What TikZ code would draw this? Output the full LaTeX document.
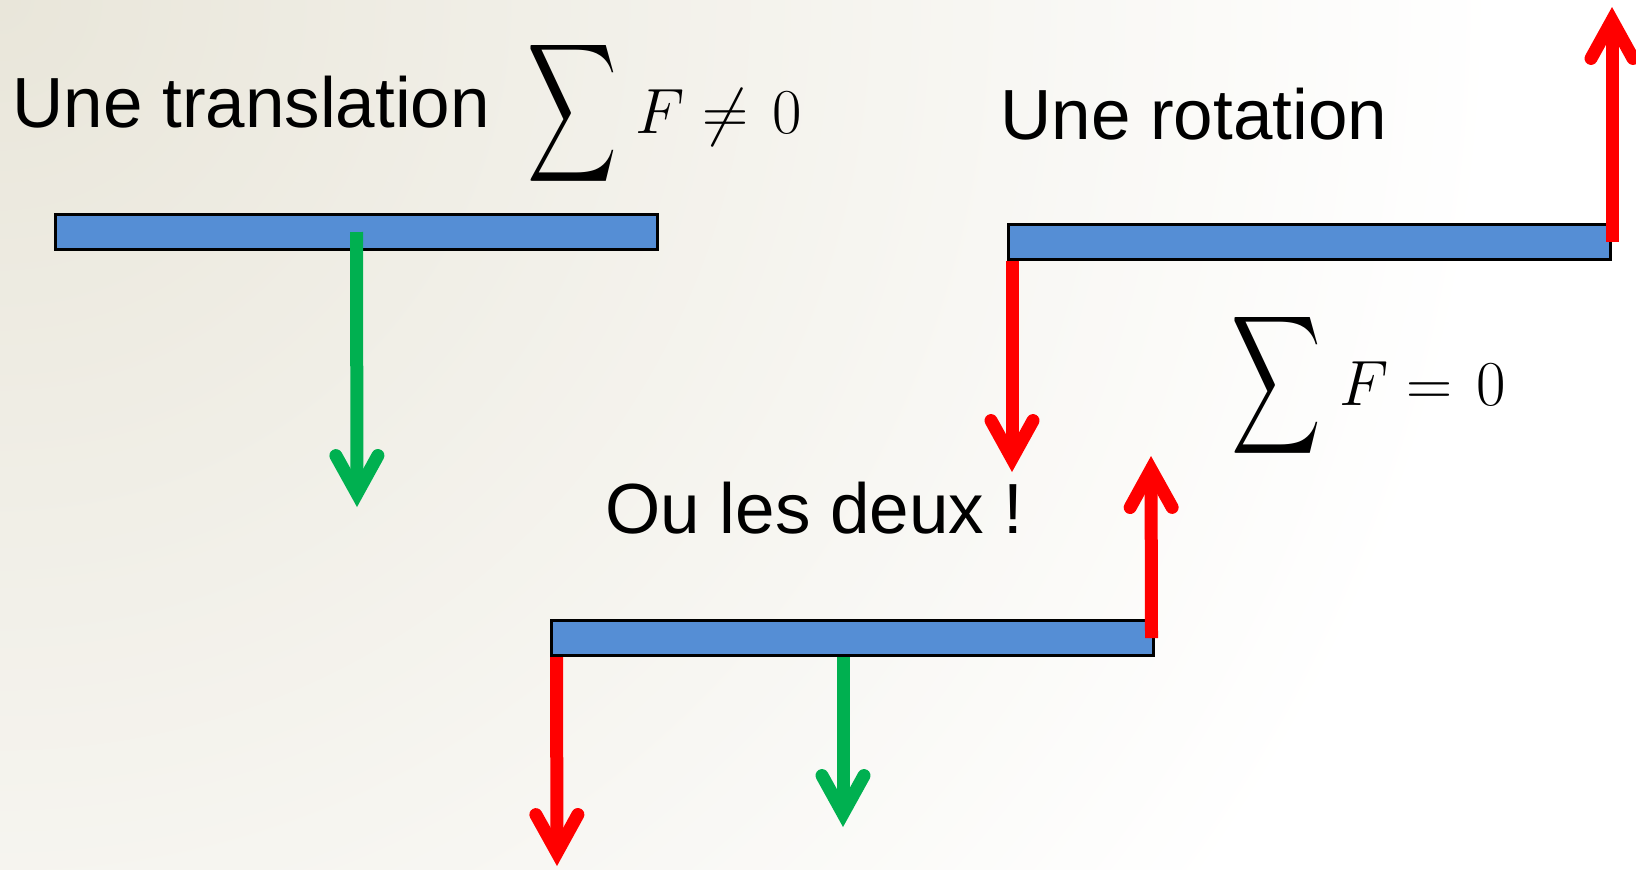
\RequirePackage{fix-cm}
\documentclass[tikz,border=0pt]{standalone}
\usepackage{amsmath}
\usepackage[no-math]{fontspec}
\setmainfont{Liberation Sans}
\usetikzlibrary{arrows.meta}

\definecolor{barblue}{RGB}{85,142,213}
\definecolor{fgreen}{RGB}{0,176,80}
\definecolor{fred}{RGB}{255,0,0}
\definecolor{bgtan}{RGB}{233,230,218}

\newcommand{\Fsum}{\smash{\raisebox{-6pt}{\scalebox{1.25}[1.95]{$\displaystyle\sum$}}}\mkern5mu}

\tikzset{
  bar/.style={draw=black, line width=1.5pt, fill=barblue, minimum width=301pt, minimum height=17.5pt, inner sep=0pt},
  force/.style={line width=6.5pt, -{Straight Barb[length=19pt, width=21pt, line cap=round, line join=miter]}},
  txt/.style={inner sep=0pt, anchor=base west, font=\fontsize{35.5}{42}\selectfont},
  sumtxt/.style={inner sep=0pt, anchor=base west, font=\fontsize{32}{38}\selectfont},
}

\begin{document}
\begin{tikzpicture}[x=0.5pt, y=-0.5pt]
  % background
  \useasboundingbox (0,0) rectangle (1636,869);
  \begin{scope}
    \clip (0,0) rectangle (1636,869);
    \shade[inner color=bgtan, outer color=white] (0,0) circle (1500);
  \end{scope}

  % translation
  \node[bar] (trans) at (356.5,232) {};
  \coordinate (transtip) at (357,507);
  \draw[force, fgreen] (trans.center) -- (transtip);
  \node[txt] (transtxt) at (12,127) {Une translation};
  \node[sumtxt] (sumneq) at (527,133) {$\Fsum F \neq\mkern2mu 0$};

  % rotation
  \node[bar] (rot) at (1309.5,241.5) {};
  \coordinate (rotup) at (1612,7);
  \coordinate (rotdown) at (1012,472);
  \draw[force, fred] (rot.east) -- (rotup);
  \draw[force, fred] ([xshift=2.5pt]rot.south west) -- (rotdown);
  \node[txt] (rottxt) at (1000,139) {Une rotation};
  \node[sumtxt] (sumeq) at (1231,405) {$\Fsum F = \mkern2mu 0$};

  % les deux
  \node[bar] (both) at (852,638) {};
  \coordinate (bothup) at (1151,456);
  \coordinate (bothdown) at (557,866);
  \coordinate (bothtip) at (843,827);
  \draw[force, fred] ([xshift=-1.5pt]both.east) -- (bothup);
  \draw[force, fred] ([xshift=3.5pt]both.south west) -- (bothdown);
  \draw[force, fgreen] ([xshift=-4.5pt]both.south) -- (bothtip);
  \node[txt] (bothtxt) at (605,533) {Ou les deux !};
\end{tikzpicture}
\end{document}
